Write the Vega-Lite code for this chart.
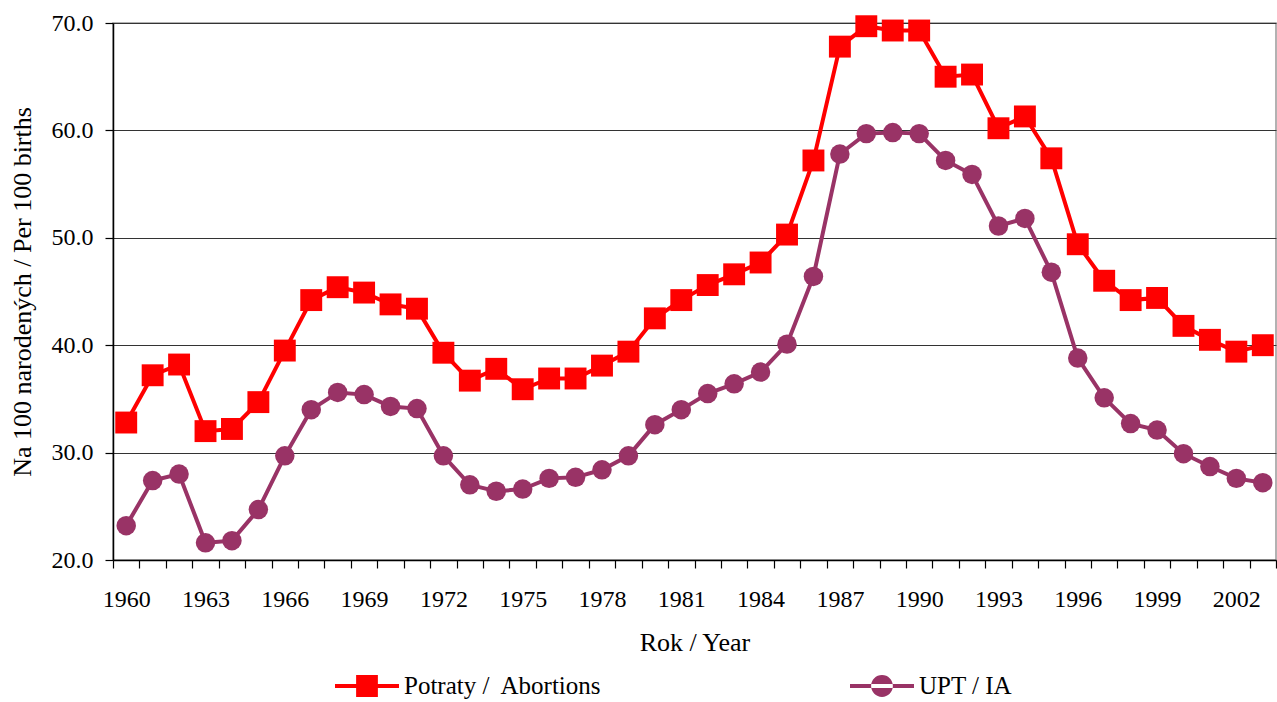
{
  "$schema": "https://vega.github.io/schema/vega-lite/v6.json",
  "width": 1163,
  "height": 537,
  "autosize": {"type": "none"},
  "padding": {"left": 113, "top": 23, "right": 1, "bottom": 142},
  "background": "white",
  "config": {
    "font": "Liberation Serif",
    "view": {"stroke": "#999999", "strokeWidth": 1.5},
    "legend": {"labelFont": "Liberation Serif", "labelFontSize": 25, "labelColor": "#000"},
    "axis": {
      "labelFont": "Liberation Serif",
      "titleFont": "Liberation Serif",
      "labelFontSize": 24,
      "titleFontSize": 26,
      "labelColor": "#000",
      "titleColor": "#000",
      "titleFontWeight": "normal",
      "domainColor": "#000",
      "tickColor": "#000",
      "domainWidth": 1.5,
      "tickWidth": 1.2
    }
  },
  "data": {
    "values": [
      {"year": 1960, "series": "Potraty /\u00a0 Abortions", "value": 32.8},
      {"year": 1961, "series": "Potraty /\u00a0 Abortions", "value": 37.2},
      {"year": 1962, "series": "Potraty /\u00a0 Abortions", "value": 38.2},
      {"year": 1963, "series": "Potraty /\u00a0 Abortions", "value": 32.0},
      {"year": 1964, "series": "Potraty /\u00a0 Abortions", "value": 32.2},
      {"year": 1965, "series": "Potraty /\u00a0 Abortions", "value": 34.7},
      {"year": 1966, "series": "Potraty /\u00a0 Abortions", "value": 39.5},
      {"year": 1967, "series": "Potraty /\u00a0 Abortions", "value": 44.2},
      {"year": 1968, "series": "Potraty /\u00a0 Abortions", "value": 45.4},
      {"year": 1969, "series": "Potraty /\u00a0 Abortions", "value": 44.9},
      {"year": 1970, "series": "Potraty /\u00a0 Abortions", "value": 43.8},
      {"year": 1971, "series": "Potraty /\u00a0 Abortions", "value": 43.4},
      {"year": 1972, "series": "Potraty /\u00a0 Abortions", "value": 39.3},
      {"year": 1973, "series": "Potraty /\u00a0 Abortions", "value": 36.7},
      {"year": 1974, "series": "Potraty /\u00a0 Abortions", "value": 37.8},
      {"year": 1975, "series": "Potraty /\u00a0 Abortions", "value": 35.9},
      {"year": 1976, "series": "Potraty /\u00a0 Abortions", "value": 36.9},
      {"year": 1977, "series": "Potraty /\u00a0 Abortions", "value": 36.9},
      {"year": 1978, "series": "Potraty /\u00a0 Abortions", "value": 38.1},
      {"year": 1979, "series": "Potraty /\u00a0 Abortions", "value": 39.4},
      {"year": 1980, "series": "Potraty /\u00a0 Abortions", "value": 42.5},
      {"year": 1981, "series": "Potraty /\u00a0 Abortions", "value": 44.2},
      {"year": 1982, "series": "Potraty /\u00a0 Abortions", "value": 45.6},
      {"year": 1983, "series": "Potraty /\u00a0 Abortions", "value": 46.6},
      {"year": 1984, "series": "Potraty /\u00a0 Abortions", "value": 47.7},
      {"year": 1985, "series": "Potraty /\u00a0 Abortions", "value": 50.3},
      {"year": 1986, "series": "Potraty /\u00a0 Abortions", "value": 57.2},
      {"year": 1987, "series": "Potraty /\u00a0 Abortions", "value": 67.8},
      {"year": 1988, "series": "Potraty /\u00a0 Abortions", "value": 69.7},
      {"year": 1989, "series": "Potraty /\u00a0 Abortions", "value": 69.3},
      {"year": 1990, "series": "Potraty /\u00a0 Abortions", "value": 69.3},
      {"year": 1991, "series": "Potraty /\u00a0 Abortions", "value": 65.0},
      {"year": 1992, "series": "Potraty /\u00a0 Abortions", "value": 65.2},
      {"year": 1993, "series": "Potraty /\u00a0 Abortions", "value": 60.2},
      {"year": 1994, "series": "Potraty /\u00a0 Abortions", "value": 61.3},
      {"year": 1995, "series": "Potraty /\u00a0 Abortions", "value": 57.4},
      {"year": 1996, "series": "Potraty /\u00a0 Abortions", "value": 49.4},
      {"year": 1997, "series": "Potraty /\u00a0 Abortions", "value": 46.0},
      {"year": 1998, "series": "Potraty /\u00a0 Abortions", "value": 44.2},
      {"year": 1999, "series": "Potraty /\u00a0 Abortions", "value": 44.4},
      {"year": 2000, "series": "Potraty /\u00a0 Abortions", "value": 41.8},
      {"year": 2001, "series": "Potraty /\u00a0 Abortions", "value": 40.5},
      {"year": 2002, "series": "Potraty /\u00a0 Abortions", "value": 39.4},
      {"year": 2003, "series": "Potraty /\u00a0 Abortions", "value": 40.0},
      {"year": 1960, "series": "UPT / IA", "value": 23.2},
      {"year": 1961, "series": "UPT / IA", "value": 27.4},
      {"year": 1962, "series": "UPT / IA", "value": 28.0},
      {"year": 1963, "series": "UPT / IA", "value": 21.6},
      {"year": 1964, "series": "UPT / IA", "value": 21.8},
      {"year": 1965, "series": "UPT / IA", "value": 24.7},
      {"year": 1966, "series": "UPT / IA", "value": 29.7},
      {"year": 1967, "series": "UPT / IA", "value": 34.0},
      {"year": 1968, "series": "UPT / IA", "value": 35.6},
      {"year": 1969, "series": "UPT / IA", "value": 35.4},
      {"year": 1970, "series": "UPT / IA", "value": 34.3},
      {"year": 1971, "series": "UPT / IA", "value": 34.1},
      {"year": 1972, "series": "UPT / IA", "value": 29.7},
      {"year": 1973, "series": "UPT / IA", "value": 27.0},
      {"year": 1974, "series": "UPT / IA", "value": 26.4},
      {"year": 1975, "series": "UPT / IA", "value": 26.6},
      {"year": 1976, "series": "UPT / IA", "value": 27.6},
      {"year": 1977, "series": "UPT / IA", "value": 27.7},
      {"year": 1978, "series": "UPT / IA", "value": 28.4},
      {"year": 1979, "series": "UPT / IA", "value": 29.7},
      {"year": 1980, "series": "UPT / IA", "value": 32.6},
      {"year": 1981, "series": "UPT / IA", "value": 34.0},
      {"year": 1982, "series": "UPT / IA", "value": 35.5},
      {"year": 1983, "series": "UPT / IA", "value": 36.4},
      {"year": 1984, "series": "UPT / IA", "value": 37.5},
      {"year": 1985, "series": "UPT / IA", "value": 40.1},
      {"year": 1986, "series": "UPT / IA", "value": 46.4},
      {"year": 1987, "series": "UPT / IA", "value": 57.8},
      {"year": 1988, "series": "UPT / IA", "value": 59.7},
      {"year": 1989, "series": "UPT / IA", "value": 59.8},
      {"year": 1990, "series": "UPT / IA", "value": 59.7},
      {"year": 1991, "series": "UPT / IA", "value": 57.2},
      {"year": 1992, "series": "UPT / IA", "value": 55.9},
      {"year": 1993, "series": "UPT / IA", "value": 51.1},
      {"year": 1994, "series": "UPT / IA", "value": 51.8},
      {"year": 1995, "series": "UPT / IA", "value": 46.8},
      {"year": 1996, "series": "UPT / IA", "value": 38.8},
      {"year": 1997, "series": "UPT / IA", "value": 35.1},
      {"year": 1998, "series": "UPT / IA", "value": 32.7},
      {"year": 1999, "series": "UPT / IA", "value": 32.1},
      {"year": 2000, "series": "UPT / IA", "value": 29.9},
      {"year": 2001, "series": "UPT / IA", "value": 28.7},
      {"year": 2002, "series": "UPT / IA", "value": 27.6},
      {"year": 2003, "series": "UPT / IA", "value": 27.2}
    ]
  },
  "encoding": {
    "x": {
      "field": "year",
      "type": "ordinal",
      "scale": {"type": "band", "paddingInner": 0, "paddingOuter": 0},
      "axis": {
        "title": "Rok / Year",
        "labelAngle": 0,
        "tickBand": "extent",
        "tickSize": 8,
        "labelPadding": 19,
        "labelOverlap": false,
        "labelExpr": "(datum.value - 1960) % 3 === 0 ? datum.value : ''",
        "titlePadding": 18,
        "grid": false
      }
    },
    "y": {
      "field": "value",
      "type": "quantitative",
      "scale": {"domain": [20, 70], "nice": false, "zero": false},
      "axis": {
        "title": "Na 100 narodených / Per 100 births",
        "values": [20, 30, 40, 50, 60, 70],
        "format": ".1f",
        "tickSize": 8,
        "labelPadding": 12,
        "titlePadding": 16,
        "grid": true,
        "gridColor": "#333333",
        "gridWidth": 1.2
      }
    },
    "color": {
      "field": "series",
      "type": "nominal",
      "scale": {"domain": ["Potraty /\u00a0 Abortions", "UPT / IA"], "range": ["#FF0000", "#993366"]},
      "legend": {
        "title": null,
        "orient": "none",
        "legendX": 222,
        "legendY": 631,
        "direction": "horizontal",
        "symbolSize": 4096,
        "labelFont": "Liberation Serif",
        "labelFontSize": 25,
        "labelColor": "#000",
        "labelOffset": 5,
        "columnPadding": 248,
        "labelLimit": 400,
        "encoding": {
          "labels": {
            "font": {"value": "Liberation Serif"}
          },
          "symbols": {
            "shape": {"value": {"expr": "datum.value === 'UPT / IA' ? 'M-1,-0.0625H1V0.0625H-1Z M-0.34,0A0.34,0.34,0,1,0,0.34,0A0.34,0.34,0,1,0,-0.34,0Z' : 'M-1,-0.0625H1V0.0625H-1Z M-0.34,-0.34H0.34V0.34H-0.34Z'"}},
            "fill": {"value": {"expr": "datum.value === 'UPT / IA' ? '#993366' : '#FF0000'"}},
            "size": {"value": 4096},
            "strokeWidth": {"value": 0},
            "opacity": {"value": 1}
          }
        }
      }
    }
  },
  "layer": [
    {
      "mark": {"type": "line", "strokeWidth": 4}
    },
    {
      "transform": [{"filter": "datum.series !== 'UPT / IA'"}],
      "mark": {"type": "point", "filled": true, "opacity": 1, "shape": "square", "size": 480}
    },
    {
      "transform": [{"filter": "datum.series === 'UPT / IA'"}],
      "mark": {"type": "point", "filled": true, "opacity": 1, "shape": "circle", "size": 380}
    }
  ]
}
